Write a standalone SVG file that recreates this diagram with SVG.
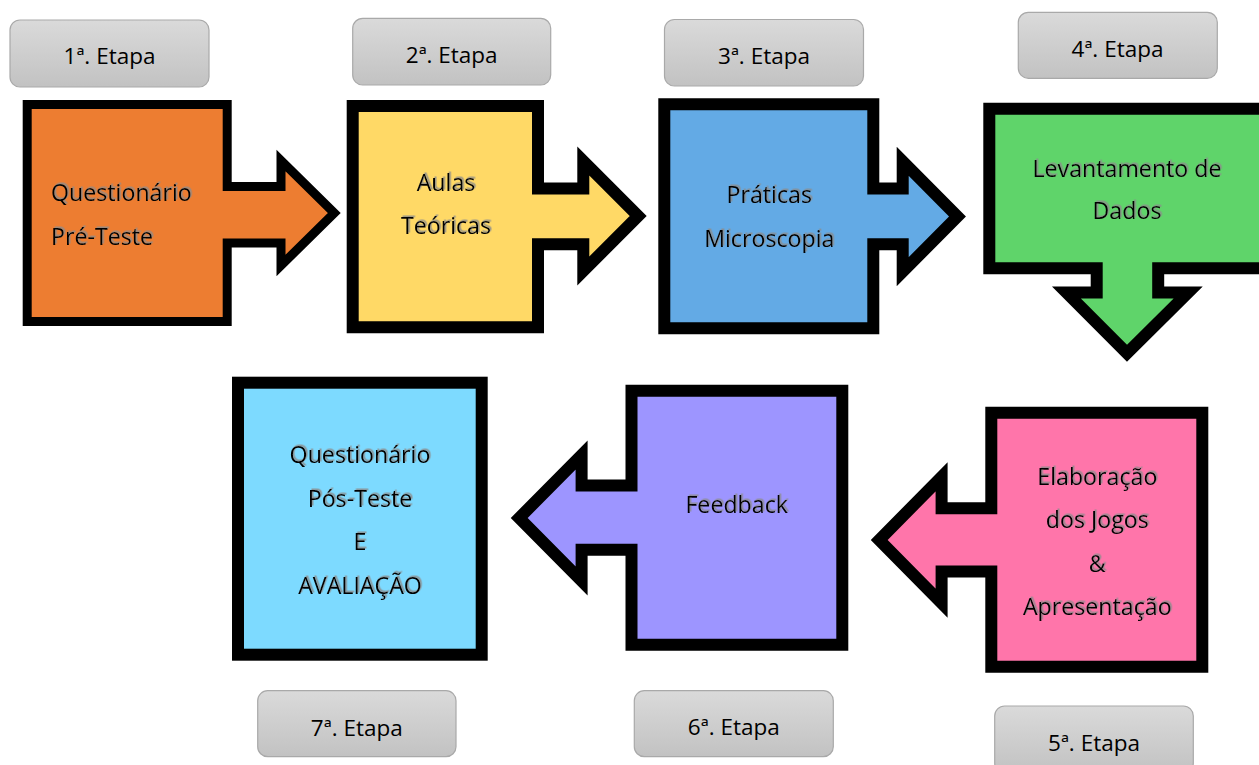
<svg xmlns="http://www.w3.org/2000/svg" width="1259" height="765" viewBox="0 0 1259 765">
<defs>
<linearGradient id="lg" x1="0" y1="0" x2="0" y2="1">
<stop offset="0" stop-color="#dadada"/>
<stop offset="1" stop-color="#c2c2c2"/>
</linearGradient>
<filter id="sh" x="-10%" y="-30%" width="120%" height="160%">
<feDropShadow dx="1.5" dy="-1.5" stdDeviation="0.4" flood-color="#8c8c8c" flood-opacity="0.9"/>
</filter>
<style>
.lab{fill:url(#lg);stroke:#a9a9a9;stroke-width:1.2}
.lt{font-family:"Open Sans","Noto Sans",sans-serif;font-size:22.5px;fill:#000;text-anchor:middle}
.sh{stroke:#000;stroke-width:12;stroke-linejoin:miter;stroke-miterlimit:10}
.tx{font-family:"Open Sans","Noto Sans",sans-serif;font-size:23.2px;fill:#000;text-anchor:middle;filter:url(#sh)}
</style>
</defs>
<rect width="1259" height="765" fill="#fff"/>

<g id="step1">
<path class="sh" style="stroke-width:9" fill="#ED7D31" d="M27.2,104.5 H227.2 V186.5 H281 V160.5 L334.3,213 L281,265.5 V243 H227.2 V321.5 H27.2 Z"/>
<text class="tx" style="text-anchor:start" x="51" y="201">Questionário</text>
<text class="tx" style="text-anchor:start" x="51" y="245">Pré-Teste</text>
</g>
<g id="label1"><rect class="lab" x="10" y="20" width="199" height="67" rx="10"/><text class="lt" x="109.5" y="64">1ª. Etapa</text></g>

<g id="step2">
<path class="sh" fill="#FFD966" d="M352.7,106 H538 V188.5 H583.3 V161 L638.2,216 L583.3,271 V244.2 H538 V327.3 H352.7 Z"/>
<text class="tx" x="446" y="191">Aulas</text>
<text class="tx" x="446" y="234">Teóricas</text>
</g>
<g id="label2"><rect class="lab" x="352.7" y="18.3" width="198" height="66.7" rx="10"/><text class="lt" x="451.7" y="63">2ª. Etapa</text></g>

<g id="step3">
<path class="sh" fill="#63AAE5" d="M664.3,104.3 H873.3 V188.5 H902.7 V161.3 L957.5,216.5 L902.7,271.7 V244.2 H873.3 V328.3 H664.3 Z"/>
<text class="tx" x="769.3" y="203">Práticas</text>
<text class="tx" x="769.3" y="247">Microscopia</text>
</g>
<g id="label3"><rect class="lab" x="664.5" y="19.5" width="199" height="66.5" rx="10"/><text class="lt" x="764" y="64">3ª. Etapa</text></g>

<g id="step4">
<path class="sh" fill="#5FD46A" d="M989.3,108.7 H1267 V268.3 H1158.2 V292.4 H1188.2 L1127,353.2 L1066.4,292.4 H1096.7 V268.3 H989.3 Z"/>
<text class="tx" x="1127" y="177">Levantamento de</text>
<text class="tx" x="1127" y="219">Dados</text>
</g>
<g id="label4"><rect class="lab" x="1018.3" y="12.3" width="199" height="66" rx="10"/><text class="lt" x="1117.5" y="57">4ª. Etapa</text></g>

<g id="step5">
<path class="sh" fill="#FF75AA" d="M1202.3,412.7 V666.7 H991.3 V571.5 H941.6 V603.2 L879.2,540 L941.6,476.8 V508.2 H991.3 V412.7 Z"/>
<text class="tx" x="1097.3" y="485">Elaboração</text>
<text class="tx" x="1097.3" y="528">dos Jogos</text>
<text class="tx" x="1097.3" y="572">&amp;</text>
<text class="tx" x="1097.3" y="615">Apresentação</text>
</g>
<g id="label5"><rect class="lab" x="994.7" y="706" width="198.6" height="67" rx="10"/><text class="lt" x="1094" y="750.5">5ª. Etapa</text></g>

<g id="step6">
<path class="sh" fill="#9D95FF" d="M842.3,390.7 V644.7 H631.5 V549.7 H581.6 V581 L519.2,518 L581.6,455 V485.5 H631.5 V390.7 Z"/>
<text class="tx" x="736.7" y="513">Feedback</text>
</g>
<g id="label6"><rect class="lab" x="634.3" y="690.7" width="199" height="66" rx="10"/><text class="lt" x="733.8" y="735">6ª. Etapa</text></g>

<g id="step7">
<rect class="sh" fill="#7DDAFF" x="238" y="382.7" width="243.7" height="272"/>
<text class="tx" x="360" y="463">Questionário</text>
<text class="tx" x="360" y="507">Pós-Teste</text>
<text class="tx" x="360" y="550">E</text>
<text class="tx" x="360" y="594">AVALIAÇÃO</text>
</g>
<g id="label7"><rect class="lab" x="257.7" y="690.7" width="198.3" height="66" rx="10"/><text class="lt" x="356.8" y="735.5">7ª. Etapa</text></g>

<g id="connectors"></g>
</svg>
